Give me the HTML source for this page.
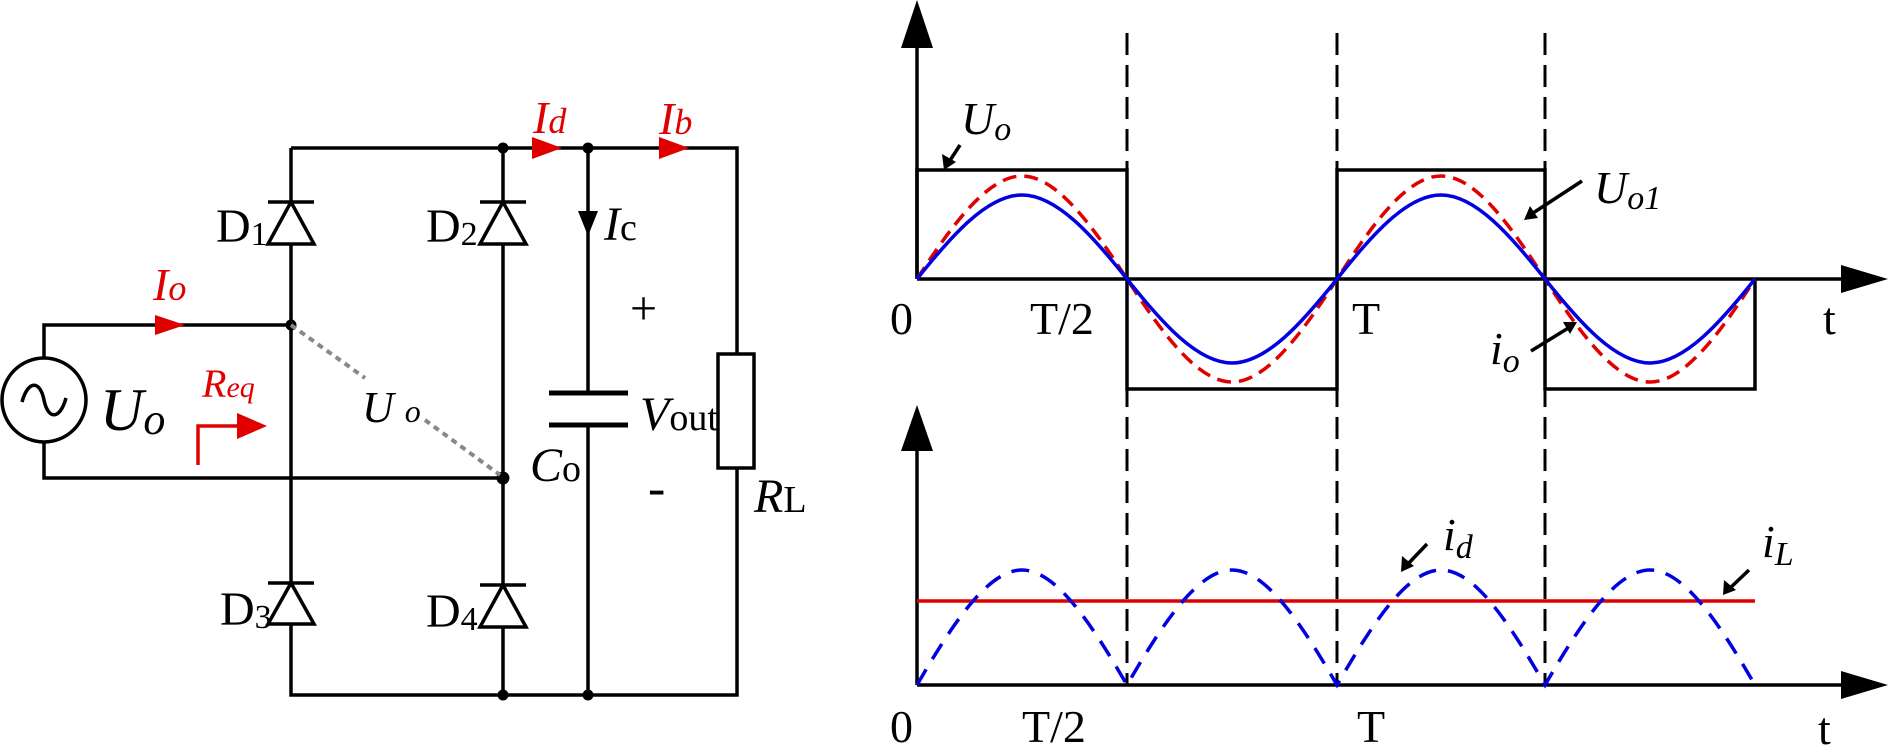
<!DOCTYPE html>
<html><head><meta charset="utf-8"><style>
html,body{margin:0;padding:0;background:#fff;}
svg{display:block;}
text{font-family:"Liberation Serif",serif;}
</style></head><body>
<svg width="1890" height="748" viewBox="0 0 1890 748" xmlns="http://www.w3.org/2000/svg">
<g stroke="#000" stroke-width="3.5" fill="none">
<polyline points="291,148 737,148 737,695 291,695 291,148"/>
<line x1="503" y1="148" x2="503" y2="695"/>
<line x1="588" y1="148" x2="588" y2="393"/>
<line x1="588" y1="425" x2="588" y2="695"/>
<polyline points="291,325 44,325 44,358"/>
<polyline points="503,478 44,478 44,442"/>
<circle cx="44" cy="400" r="42"/>
<path d="M22,402 C28,380 40,380 44,400 C48,420 60,420 66,398"/>
<line x1="549" y1="393" x2="628" y2="393" stroke-width="5"/>
<line x1="549" y1="425" x2="628" y2="425" stroke-width="5"/>
<rect x="718" y="354" width="36" height="114" fill="#fff"/>
<g fill="#fff">
<line x1="268" y1="202" x2="314" y2="202"/><polygon points="291,202 268,244 314,244"/>
<line x1="480" y1="202" x2="526" y2="202"/><polygon points="503,202 480,244 526,244"/>
<line x1="268" y1="583" x2="314" y2="583"/><polygon points="291,583 268,624 314,624"/>
<line x1="480" y1="585" x2="526" y2="585"/><polygon points="503,585 480,627 526,627"/>
</g>
</g>
<g fill="#000">
<circle cx="503" cy="148" r="5.5"/><circle cx="588" cy="148" r="5.5"/>
<circle cx="503" cy="695" r="5.5"/><circle cx="588" cy="695" r="5.5"/>
<circle cx="291" cy="325" r="5.5"/><circle cx="503" cy="478" r="6.5"/>
<polygon points="578,211 598,211 588,236"/>
</g>
<g stroke="#888" stroke-width="4" stroke-dasharray="6 5">
<line x1="291" y1="325" x2="365" y2="378"/>
<line x1="425" y1="420" x2="500" y2="475"/>
</g>
<g fill="#e00000">
<polygon points="155,315 185,325 155,335"/>
<polygon points="532,137 562,148 532,159"/>
<polygon points="659,137 689,148 659,159"/>
<polygon points="237,413 267,426 237,439"/>
</g>
<polyline points="198,465 198,426 240,426" stroke="#e00000" stroke-width="3.5" fill="none"/>
<g font-size="48">
<text x="216" y="242">D<tspan font-size="34" dy="3">1</tspan></text>
<text x="426" y="242">D<tspan font-size="34" dy="3">2</tspan></text>
<text x="220" y="625">D<tspan font-size="34" dy="3">3</tspan></text>
<text x="426" y="627">D<tspan font-size="34" dy="3">4</tspan></text>
<text x="604" y="240" font-style="italic">I<tspan font-style="normal" font-size="38">c</tspan></text>
<text x="640" y="430" font-style="italic">V<tspan font-style="normal" font-size="38">out</tspan></text>
<text x="530" y="481" font-style="italic">C<tspan font-style="normal" font-size="38">o</tspan></text>
<text x="754" y="512" font-style="italic">R<tspan font-style="normal" font-size="38">L</tspan></text>
<text x="630" y="324" font-family="Liberation Sans" font-size="48">+</text>
<text x="648" y="505" font-family="Liberation Sans" font-size="52">-</text>
<text x="362" y="422" font-style="italic" font-size="44">U <tspan font-size="32">o</tspan></text>
<text x="100" y="430" font-style="italic" font-size="60">U<tspan font-size="44" dy="4">o</tspan></text>
</g>
<g fill="#e00000" font-style="italic" font-size="46">
<text x="153" y="300">I<tspan font-size="36">o</tspan></text>
<text x="533" y="133">I<tspan font-size="36">d</tspan></text>
<text x="659" y="134">I<tspan font-size="36">b</tspan></text>
<text x="202" y="397" font-size="40">R<tspan font-size="30">eq</tspan></text>
</g>

<g stroke="#000" stroke-width="3.5" fill="none">
<line x1="917" y1="40" x2="917" y2="279"/>
<line x1="917" y1="279" x2="1845" y2="279"/>
<line x1="917" y1="445" x2="917" y2="685"/>
<line x1="917" y1="685" x2="1845" y2="685"/>
<polyline points="917,279 917,170 1127,170 1127,389 1337,389 1337,170 1545,170 1545,389 1755,389 1755,279"/>
<g stroke-dasharray="22 10" stroke-width="3">
<line x1="1127" y1="33" x2="1127" y2="685"/>
<line x1="1337" y1="33" x2="1337" y2="685"/>
<line x1="1545" y1="33" x2="1545" y2="685"/>
</g>
</g>
<g fill="#000">
<polygon points="917,0 901,48 933,48"/>
<polygon points="917,405 901,451 933,451"/>
<polygon points="1888,279 1841,265 1841,293"/>
<polygon points="1888,685 1841,671 1841,699"/>
</g>
<path d="M917,279 C951.6,225.6 987.4,176 1022,176 C1056.6,176 1092.4,225.6 1127,279 C1161.6,332.4 1197.4,382 1232,382 C1266.6,382 1302.4,332.4 1337,279 C1371.6,225.6 1406.4,176 1441,176 C1475.6,176 1510.4,225.6 1545,279 C1579.6,332.4 1615.4,382 1650,382 C1684.6,382 1720.4,332.4 1755,279" stroke="#e00000" stroke-width="3.5" fill="none" stroke-dasharray="14 8"/>
<path d="M917,279 C951.6,235.5 987.4,195 1022,195 C1056.6,195 1092.4,235.5 1127,279 C1161.6,322.5 1197.4,363 1232,363 C1266.6,363 1302.4,322.5 1337,279 C1371.6,235.5 1406.4,195 1441,195 C1475.6,195 1510.4,235.5 1545,279 C1579.6,322.5 1615.4,363 1650,363 C1684.6,363 1720.4,322.5 1755,279" stroke="#0000e0" stroke-width="3.5" fill="none"/>
<line x1="917" y1="601" x2="1755" y2="601" stroke="#e00000" stroke-width="3.5"/>
<path d="M917,685 C951.6,625.4 987.4,570 1022,570 C1056.6,570 1092.4,625.4 1127,685 C1161.6,625.4 1197.4,570 1232,570 C1266.6,570 1302.4,625.4 1337,685 C1371.6,625.4 1406.4,570 1441,570 C1475.6,570 1510.4,625.4 1545,685 C1579.6,625.4 1615.4,570 1650,570 C1684.6,570 1720.4,625.4 1755,685" stroke="#0000e0" stroke-width="3.5" fill="none" stroke-dasharray="18 12"/>
<g stroke="#000" stroke-width="3.5">
<line x1="960" y1="145" x2="949" y2="162"/>
<line x1="1582" y1="181" x2="1530" y2="215"/>
<line x1="1531" y1="351" x2="1570" y2="327"/>
<line x1="1427" y1="544" x2="1406" y2="566"/>
<line x1="1749" y1="570" x2="1728" y2="590"/>
</g>
<g fill="#000">
<polygon points="944,170 942,154 956,162"/>
<polygon points="1524,220 1530,206 1538,218"/>
<polygon points="1577,322 1563,322 1570,334"/>
<polygon points="1401,572 1402,556 1414,566"/>
<polygon points="1723,595 1724,580 1736,590"/>
</g>
<g font-size="46">
<text x="890" y="334">0</text>
<text x="1030" y="334">T/2</text>
<text x="1352" y="334">T</text>
<text x="1823" y="334">t</text>
<text x="890" y="742">0</text>
<text x="1022" y="742">T/2</text>
<text x="1357" y="742">T</text>
<text x="1818" y="744">t</text>
<g font-style="italic">
<text x="961" y="134">U<tspan font-size="34" dy="6">o</tspan></text>
<text x="1594" y="203">U<tspan font-size="34" dy="6">o1</tspan></text>
<text x="1490" y="364">i<tspan font-size="34" dy="8">o</tspan></text>
<text x="1443" y="550">i<tspan font-size="34" dy="8">d</tspan></text>
<text x="1762" y="557">i<tspan font-size="34" dy="8">L</tspan></text>
</g>
</g>
</svg>
</body></html>
